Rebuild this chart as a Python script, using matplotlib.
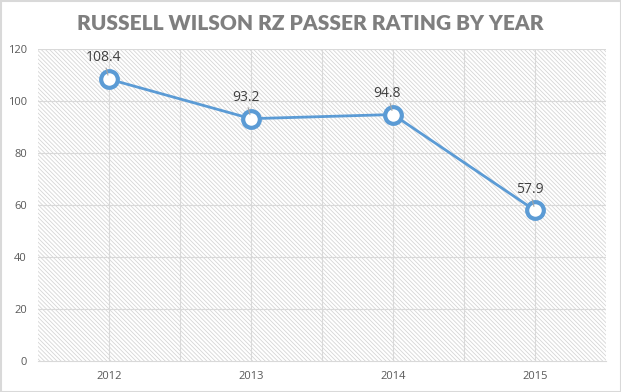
import matplotlib.pyplot as plt
from matplotlib.patches import Rectangle

# data
years = ["2012", "2013", "2014", "2015"]
rating = [108.4, 93.2, 94.8, 57.9]

plt.rcParams["hatch.color"] = "#d6d6d6"
plt.rcParams["hatch.linewidth"] = 0.6

fig = plt.figure(figsize=(6.21, 3.92), dpi=100)
ax = fig.add_axes([38 / 621, 1 - 361 / 392, 568 / 621, 312 / 392])

# hatched plot background
ax.patch.set_facecolor("white")
ax.patch.set_hatch("\\" * 8)
ax.patch.set_edgecolor("#d6d6d6")

x = list(range(len(years)))
ax.plot(x, rating, color="#5b9bd5", lw=2, marker="o", ms=12,
        mfc="white", mec="#5b9bd5", mew=3, zorder=5)

for xi, v in zip(x, rating):
    ax.annotate(f"{v}", xy=(xi, v), xytext=(-4, 10), textcoords="offset points",
                ha="center", va="bottom", fontsize=10, color="#404040",
                family="Open Sans",
                arrowprops=dict(arrowstyle="-", color="#a6a6a6", lw=0.8,
                                shrinkA=0, shrinkB=3), zorder=6)

ax.set_xlim(-0.5, len(years) - 0.5)
ax.set_ylim(0, 120)
ax.set_yticks(range(0, 121, 20))
ax.set_xticks(x)
ax.set_xticklabels(years)

# gridlines: horizontal at ticks, vertical at centers and category edges
for yv in range(20, 121, 20):
    ax.axhline(yv, color="#d9d9d9", lw=0.8, zorder=1)
for xv in [i * 0.5 - 0.5 for i in range(1, 2 * len(years))]:
    ax.axvline(xv, color="#d9d9d9", lw=0.8, zorder=1)

for s in ["top", "right", "left"]:
    ax.spines[s].set_visible(False)
ax.spines["bottom"].set_color("#d9d9d9")
ax.tick_params(length=0, labelsize=8, labelcolor="#595959")
ax.tick_params(axis="x", pad=7)
ax.tick_params(axis="y", pad=8)
for lab in ax.get_xticklabels() + ax.get_yticklabels():
    lab.set_family("Open Sans")

fig.text(0.5, 1 - 24 / 392, "RUSSELL WILSON RZ PASSER RATING BY YEAR",
         ha="center", va="center", fontsize=15, fontweight="heavy",
         color="#7f7f7f", family="Lato")

fig.patches.append(Rectangle((0.5 / 621, 0.5 / 392), 620 / 621, 391 / 392,
                             transform=fig.transFigure, fill=False,
                             edgecolor="#d9d9d9", lw=1.5))

fig.savefig("out.png", dpi=100)
